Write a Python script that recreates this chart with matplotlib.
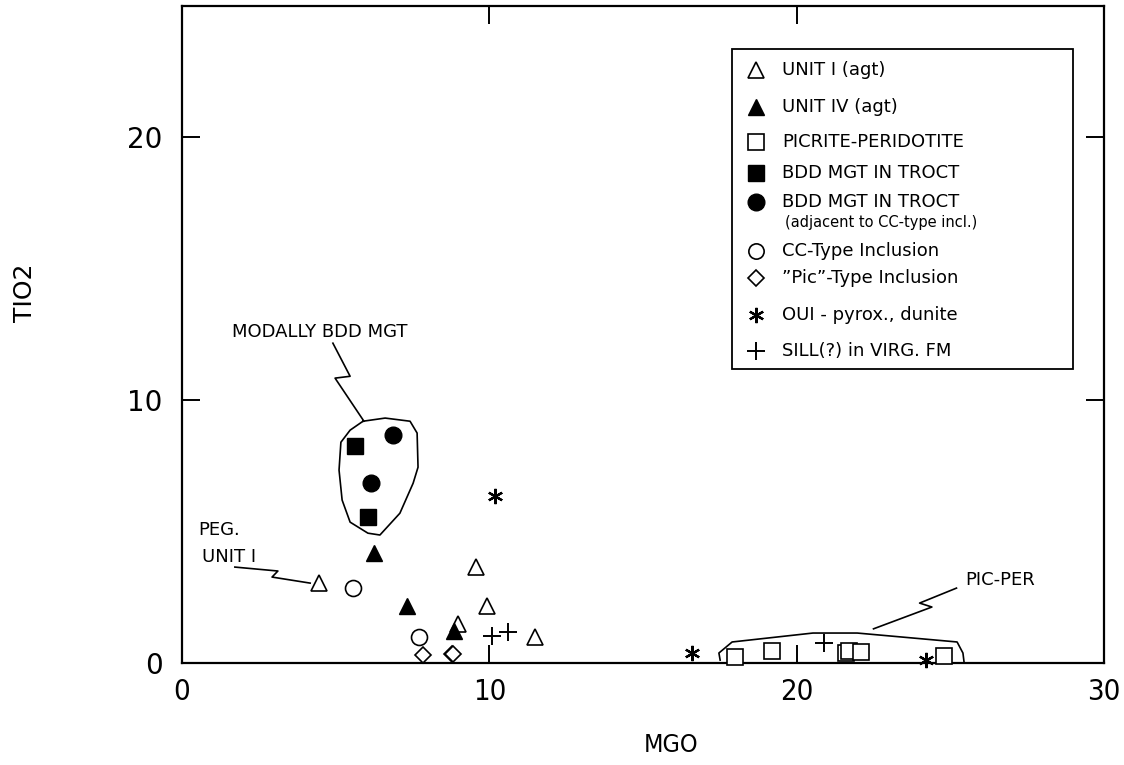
import matplotlib
matplotlib.use('Agg')
import matplotlib.pyplot as plt
from matplotlib.lines import Line2D
from matplotlib.patches import Rectangle

W, H = 1124, 765
FONT = ['DejaVu Sans']
plt.rcParams['font.family'] = FONT

# MgO / TiO2 (wt%) by rock group
unit1_mgo = [4.46, 9.57, 9.92, 8.98, 11.49]
unit1_tio2 = [3.04, 3.65, 2.17, 1.48, 0.99]
unit4_mgo = [6.25, 7.32, 8.85]
unit4_tio2 = [4.18, 2.17, 1.22]
picper_mgo = [18.0, 19.2, 21.6, 21.7, 22.1, 24.8]
picper_tio2 = [0.22, 0.46, 0.38, 0.46, 0.42, 0.27]
bdd_sq_mgo = [5.63, 6.05]
bdd_sq_tio2 = [8.25, 5.55]
bdd_ci_mgo = [6.87, 6.15]
bdd_ci_tio2 = [8.67, 6.84]
cc_mgo = [5.57, 7.71]
cc_tio2 = [2.85, 0.99]
pic_mgo = [7.84, 8.79, 8.83]
pic_tio2 = [0.30, 0.34, 0.36]
oui_mgo = [10.19, 16.6, 24.2]
oui_tio2 = [6.35, 0.38, 0.11]
sill_mgo = [10.09, 10.61, 20.9]
sill_tio2 = [1.03, 1.18, 0.76]

# hand-drawn field outlines and leader lines
bdd_field_x = [5.89, 6.61, 7.42, 7.65, 7.68, 7.52, 7.09, 6.44, 6.05, 5.47, 5.21, 5.11, 5.17, 5.47, 5.89]
bdd_field_y = [9.20, 9.32, 9.20, 8.75, 7.45, 6.84, 5.70, 4.87, 4.94, 5.36, 6.20, 7.34, 8.40, 8.86, 9.20]
bdd_lead_x = [4.91, 5.47, 4.98, 5.92]
bdd_lead_y = [12.17, 10.91, 10.84, 9.20]
picper_field_x = [17.51, 17.47, 17.90, 20.53, 21.97, 25.22, 25.41, 25.45]
picper_field_y = [0.11, 0.38, 0.80, 1.14, 1.14, 0.80, 0.38, 0.0]
picper_lead_x = [22.5, 24.4, 24.0, 25.2]
picper_lead_y = [1.30, 2.13, 2.28, 2.85]
peg_lead_x = [1.72, 3.12, 2.93, 4.17]
peg_lead_y = [3.65, 3.50, 3.27, 3.04]

fig = plt.figure(figsize=(W / 100, H / 100), dpi=100)
ax = fig.add_axes([182 / W, 1 - 663 / H, 922 / W, 657 / H])

OPEN = dict(mfc='white', mec='black', mew=1.2, ls='none', clip_on=False, zorder=3)
FILL = dict(mfc='black', mec='black', mew=1.0, ls='none', clip_on=False, zorder=3)
ASTER = (6, 2, 0)

ax.plot(unit1_mgo, unit1_tio2, marker='^', ms=11, **OPEN)
ax.plot(unit4_mgo, unit4_tio2, marker='^', ms=11, **FILL)
ax.plot(picper_mgo, picper_tio2, marker='s', ms=11, **OPEN)
ax.plot(bdd_sq_mgo, bdd_sq_tio2, marker='s', ms=12, **FILL)
ax.plot(bdd_ci_mgo, bdd_ci_tio2, marker='o', ms=12, **FILL)
ax.plot(cc_mgo, cc_tio2, marker='o', ms=11.5, **OPEN)
ax.plot(pic_mgo, pic_tio2, marker='D', ms=8, **OPEN)
ax.plot(oui_mgo, oui_tio2, marker=ASTER, ms=11, color='black', mew=1.6, ls='none', clip_on=False, zorder=3)
ax.plot(sill_mgo, sill_tio2, marker='+', ms=13, color='black', mew=1.4, ls='none', clip_on=False, zorder=3)

for xs, ys in [(bdd_field_x, bdd_field_y), (bdd_lead_x, bdd_lead_y),
               (picper_field_x, picper_field_y), (picper_lead_x, picper_lead_y),
               (peg_lead_x, peg_lead_y)]:
    ax.plot(xs, ys, color='black', lw=1.2, clip_on=False, zorder=2)

ax.set_xlim(0, 30)
ax.set_ylim(0, 25)
ax.set_xticks([0, 10, 20, 30])
ax.set_yticks([0, 10, 20])
ax.tick_params(direction='in', length=13, width=1.4, top=True, right=True)
ax.tick_params(axis='x', pad=11)
ax.tick_params(axis='y', pad=14, labelsize=20)
for lab in ax.get_xticklabels():
    lab.set_fontstretch('condensed')
    lab.set_fontsize(21)
    lab.set_fontweight('light')
for s in ax.spines.values():
    s.set_linewidth(1.6)

fig.text(671 / W, 1 - 745 / H, 'MGO', ha='center', va='center', fontsize=18, fontstretch='condensed')
fig.text(25 / W, 1 - 293 / H, 'TIO2', ha='center', va='center', fontsize=18, rotation=90)


def fp(x, y):
    return x / W, 1 - y / H


# annotations
fig.text(*fp(232, 332), 'MODALLY BDD MGT', ha='left', va='center', fontsize=13)
fig.text(*fp(198, 530), 'PEG.', ha='left', va='center', fontsize=13)
fig.text(*fp(202, 557), 'UNIT I', ha='left', va='center', fontsize=13)
fig.text(*fp(965, 580), 'PIC-PER', ha='left', va='center', fontsize=13)

# key box
x0, y0 = fp(732, 369)
x1, y1 = fp(1073, 49)
fig.add_artist(Rectangle((x0, y0), x1 - x0, y1 - y0, transform=fig.transFigure,
                         fill=False, ec='black', lw=1.3))
key_rows = [
    (dict(marker='^', ms=11, **OPEN), 'UNIT I (agt)', 70),
    (dict(marker='^', ms=11, **FILL), 'UNIT IV (agt)', 107),
    (dict(marker='s', ms=11, **OPEN), 'PICRITE-PERIDOTITE', 142),
    (dict(marker='s', ms=11, **FILL), 'BDD MGT IN TROCT', 173),
    (dict(marker='o', ms=12, **FILL), 'BDD MGT IN TROCT', 202),
    (dict(marker='o', ms=11, **OPEN), 'CC-Type Inclusion', 251),
    (dict(marker='D', ms=8, **OPEN), '\u201dPic\u201d-Type Inclusion', 278),
    (dict(marker=ASTER, ms=11, color='black', mew=1.6, ls='none'), 'OUI - pyrox., dunite', 315),
    (dict(marker='+', ms=13, color='black', mew=1.4, ls='none'), 'SILL(?) in VIRG. FM', 351),
]
for style, label, ypx in key_rows:
    mx, my = fp(756, ypx)
    style = dict(style)
    style.pop('clip_on', None)
    style.pop('zorder', None)
    fig.add_artist(Line2D([mx], [my], transform=fig.transFigure, **style))
    fig.text(*fp(782, ypx), label, ha='left', va='center', fontsize=13)
fig.text(*fp(785, 222), '(adjacent to CC-type incl.)', ha='left', va='center', fontsize=10.5)

fig.savefig('out.png', dpi=100)
